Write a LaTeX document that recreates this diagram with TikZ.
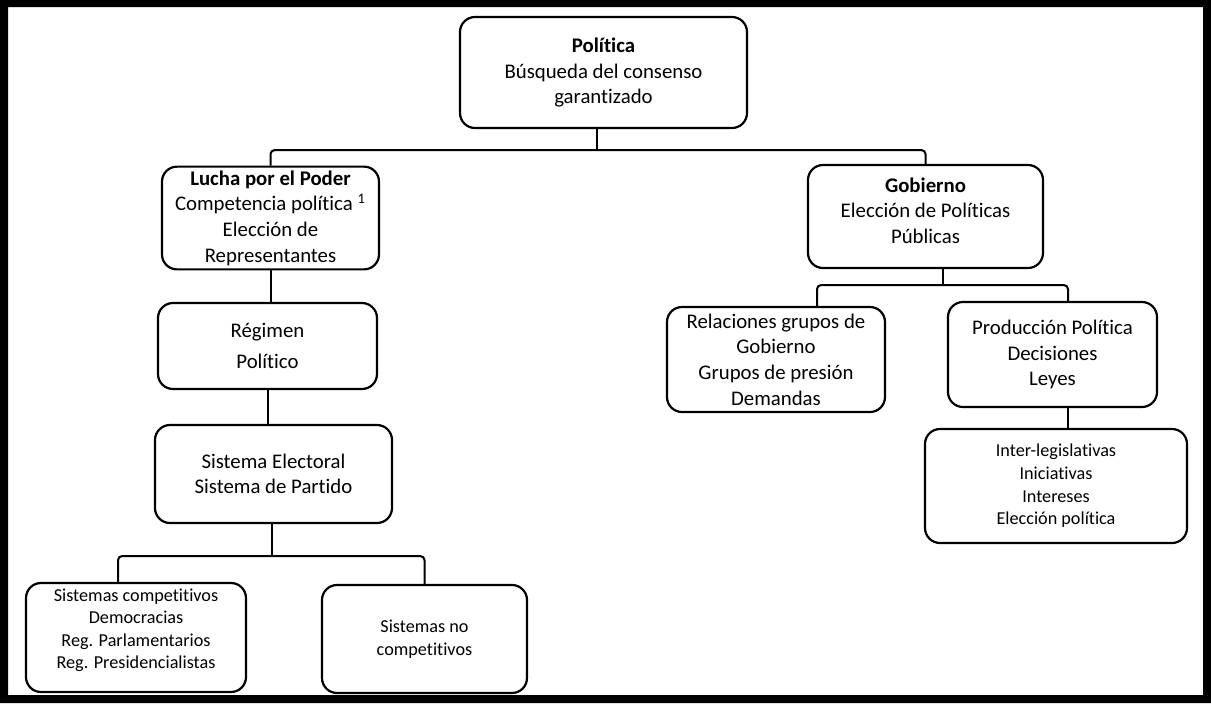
\documentclass[tikz,border=0pt]{standalone}
\usepackage{fontspec}
\setmainfont{Carlito}[Ligatures={NoCommon}]
\usetikzlibrary{positioning}
\tikzset{
    framenode/.style = {draw, rectangle, rounded corners=0.75em, line width=1.1pt, align=center,
      inner sep=0.2em, node distance=0em, font=\fontsize{10.4}{12.8}\selectfont},
    smallframenode/.style = {framenode, font=\fontsize{9.1}{11.3}\selectfont},
    branch/.style = {black, line width=1pt, rounded corners=2pt}
}
\begin{document}
\begin{tikzpicture}[x=0.5pt, y=-0.5pt]
    \useasboundingbox (0,0) rectangle (1211,703);
    \fill[even odd rule] (0,0) rectangle (1211,703) (8,7) rectangle (1203,695);

    \node [name=politica, framenode, minimum width=143.5pt, minimum height=55.5pt] at (603.5,72.5)
        {\textbf{Política}\\Búsqueda del consenso\\garantizado};

    \node [name=lucha, framenode, minimum width=108.5pt, minimum height=50pt,
        below of = politica, xshift=-166.5pt, yshift=-72.75pt]
        {\textbf{Lucha por el Poder}\\Competencia política \textsuperscript{1}\\Elección de\\Representantes};
    \node [name=gobierno, framenode, minimum width=117.5pt, minimum height=51.5pt,
        below of = politica, xshift=161pt, yshift=-72pt]
        {\textbf{Gobierno}\\Elección de Políticas\\Públicas\\[-6.6pt]};

    \node [name=regimen, framenode, minimum width=109.5pt, minimum height=43pt,
        below of = lucha, xshift=-1.5pt, yshift=-64pt] {Régimen\\[3pt]Político};
    \node [name=sistema, framenode, minimum width=118.5pt, minimum height=49pt,
        below of = regimen, xshift=3pt, yshift=-64pt] {Sistema Electoral\\Sistema de Partido};

    \node [name=competitivos, smallframenode, minimum width=110pt, minimum height=54.5pt,
        below of = sistema, xshift=-68.75pt, yshift=-81.75pt]
        {Sistemas competitivos\\Democracias\\Reg. Parlamentarios\\Reg. Presidencialistas\\[-2.5pt]};
    \node [name=nocompetitivos, smallframenode, minimum width=102.5pt, minimum height=54pt,
        below of = sistema, xshift=75.5pt, yshift=-82.5pt] {Sistemas no\\competitivos};

    \node [name=relaciones, framenode, minimum width=109pt, minimum height=52.5pt,
        below of = gobierno, xshift=-74.75pt, yshift=-71.5pt]
        {Relaciones grupos de\\Gobierno\\Grupos de presión\\Demandas};
    \node [name=produccion, framenode, minimum width=104.5pt, minimum height=52.5pt,
        below of = gobierno, xshift=63.5pt, yshift=-69pt] {Producción Política\\Decisiones\\Leyes};
    \node [name=inter, smallframenode, minimum width=131pt, minimum height=57pt,
        below of = produccion, xshift=1.75pt, yshift=-65.75pt]
        {Inter-legislativas\\Iniciativas\\Intereses\\Elección política};

    % ramas
    \coordinate (b1) at ([xshift=-3.25pt, yshift=-10.5pt]politica.south);
    \draw[branch] ([xshift=-3.25pt]politica.south) -- (b1);
    \draw[branch] (lucha.north) |- (b1) -| (gobierno.north);

    \draw[branch] (lucha.south) -- (lucha.south |- regimen.north);
    \draw[branch] (regimen.south) -- (regimen.south |- sistema.north);

    \coordinate (b2) at ([xshift=-0.75pt, yshift=-16pt]sistema.south);
    \draw[branch] ([xshift=-0.75pt]sistema.south) -- (b2);
    \draw[branch] ([xshift=-9pt]competitivos.north) |- (b2) -| (nocompetitivos.north);

    \coordinate (b3) at ([xshift=8.75pt, yshift=-8pt]gobierno.south);
    \draw[branch] ([xshift=8.75pt]gobierno.south) -- (b3);
    \draw[branch] ([xshift=20.5pt]relaciones.north) |- (b3) -| ([xshift=7.75pt]produccion.north);
    \draw[branch] ([xshift=7.75pt]produccion.south) -- ([xshift=7.75pt]produccion.south |- inter.north);
\end{tikzpicture}
\end{document}
